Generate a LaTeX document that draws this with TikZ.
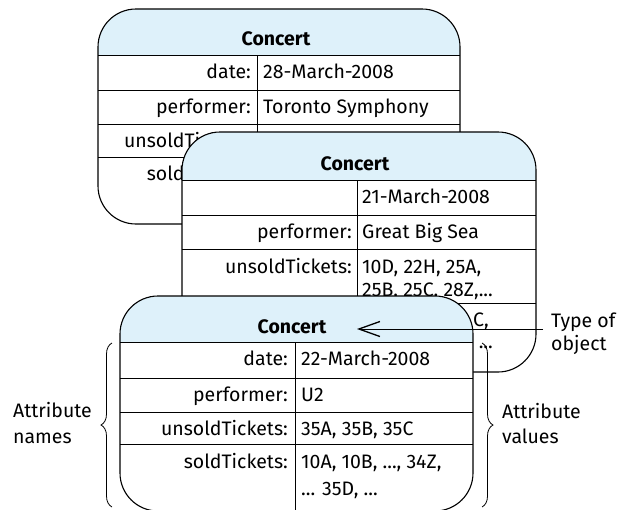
\documentclass[tikz,border=0pt]{standalone}
\usepackage{fontspec}
\setmainfont{Fira Sans}
\usetikzlibrary{arrows.meta,decorations.pathreplacing}
\definecolor{headblue}{RGB}{222,241,250}
\begin{document}
\begin{tikzpicture}[x=1pt,y=-1pt,
  frame/.style={draw=black,line width=1.1pt,rounded corners=38pt},
  rule/.style={draw=black,line width=0.9pt},
  txt/.style={font=\fontsize{19.5}{23}\selectfont,inner sep=0pt},
  title/.style={txt,font=\fontsize{19.5}{23}\selectfont\bfseries,anchor=base},
  attrname/.style={txt,anchor=base east},
  attrval/.style={txt,anchor=base west},
  note/.style={txt,anchor=base west},
  brace/.style={draw=black,line width=0.8pt,decorate,decoration={brace,amplitude=11pt}},
  pointer/.style={draw=black,line width=1pt,-{Straight Barb[length=21pt,width=15pt,line width=1.3pt]}},
]
\useasboundingbox (0,0) rectangle (617,509);

% ---------- back object: 28-March-2008 ----------
\fill[white,rounded corners=38pt] (98,9) rectangle (460,224);
\begin{scope}
  \clip[rounded corners=38pt] (98,9) rectangle (460,224);
  \fill[headblue] (98,9) rectangle (460,55);
\end{scope}
\draw[rule] (98,55) -- (460,55) (98,90) -- (460,90) (98,124) -- (460,124) (98,157) -- (460,157);
\draw[rule] (257,55) -- (257,224);
\draw[frame] (98,9) rectangle (460,224);
\node[title] (ta) at (276,45) {Concert};
\node[attrname] (na1) at (251,78) {date:};
\node[attrval]  (va1) at (263,78) {28-March-2008};
\node[attrname] (na2) at (251,113) {performer:};
\node[attrval]  (va2) at (263,113) {Toronto Symphony};
\node[attrname] (na3) at (251,147) {unsoldTickets:};
\node[attrname] (na4) at (251,180) {soldTickets:};

% ---------- middle object: 21-March-2008 ----------
\fill[white,rounded corners=38pt] (182,132) rectangle (536,372);
\begin{scope}
  \clip[rounded corners=38pt] (182,132) rectangle (536,372);
  \fill[headblue] (182,132) rectangle (536,180);
\end{scope}
\draw[rule] (182,180) -- (536,180) (182,215) -- (536,215) (182,249) -- (536,249) (182,303) -- (536,303);
\draw[rule] (357,180) -- (357,372);
\draw[frame] (182,132) rectangle (536,372);
\node[title] (tb) at (355,170) {Concert};
\node[attrval]  (vb1) at (362,203) {21-March-2008};
\node[attrname] (nb2) at (352,238) {performer:};
\node[attrval]  (vb2) at (362,238) {Great Big Sea};
\node[attrname] (nb3) at (352,273) {unsoldTickets:};
\node[attrval]  (vb3) at (362,273) {10D, 22H, 25A,};
\node[attrval]  (vb3b) at (362,296) {25B, 25C, 28Z,...};
% sold tickets of this object: only the line ends stick out past the front card
\node[txt,anchor=base east] (vb4) at (489,326) {C,};
\node[txt,anchor=base east] (vb4b) at (493,348) {...};

% ---------- front object: 22-March-2008 ----------
\fill[white,rounded corners=38pt] (120,296) rectangle (473,511);
\begin{scope}
  \clip[rounded corners=38pt] (120,296) rectangle (473,511);
  \fill[headblue] (120,296) rectangle (473,342);
\end{scope}
\draw[rule] (120,342) -- (473,342) (120,378) -- (473,378) (120,412) -- (473,412) (120,444) -- (473,444);
\draw[rule] (295,342) -- (295,511);
\draw[frame] (120,296) rectangle (473,511);
\node[title] (tc) at (292,333) {Concert};
\node[attrname] (nc1) at (288,365) {date:};
\node[attrval]  (vc1) at (301,365) {22-March-2008};
\node[attrname] (nc2) at (288,401) {performer:};
\node[attrval]  (vc2) at (301,401) {U2};
\node[attrname] (nc3) at (288,435) {unsoldTickets:};
\node[attrval]  (vc3) at (301,435) {35A, 35B, 35C};
\node[attrname] (nc4) at (288,468) {soldTickets:};
\node[attrval]  (vc4) at (301,468) {10A, 10B, ..., 34Z,};
\node[attrval]  (vc4b) at (301,495) {... 35D, ...};

% ---------- annotations ----------
\node[note] (typeof) at (551,327) {Type of};
\node[note] (typeobj) at (551,350) {object};
\coordinate (typetip) at (357,329);
\draw[pointer] (typeof.west |- typetip) ++(-8,0) -- (typetip);

\node[note] (lnames1) at (13,417) {Attribute};
\node[note] (lnames2) at (13,443) {names};
\coordinate (lbraceB) at (112,507);
\coordinate (lbraceT) at (112,343);
\draw[brace] (lbraceB) -- (lbraceT);

\node[note] (lvals1) at (502,418) {Attribute};
\node[note] (lvals2) at (502,443) {values};
\coordinate (rbraceT) at (482,343);
\coordinate (rbraceB) at (482,507);
\draw[brace] (rbraceT) -- (rbraceB);
\end{tikzpicture}
\end{document}
